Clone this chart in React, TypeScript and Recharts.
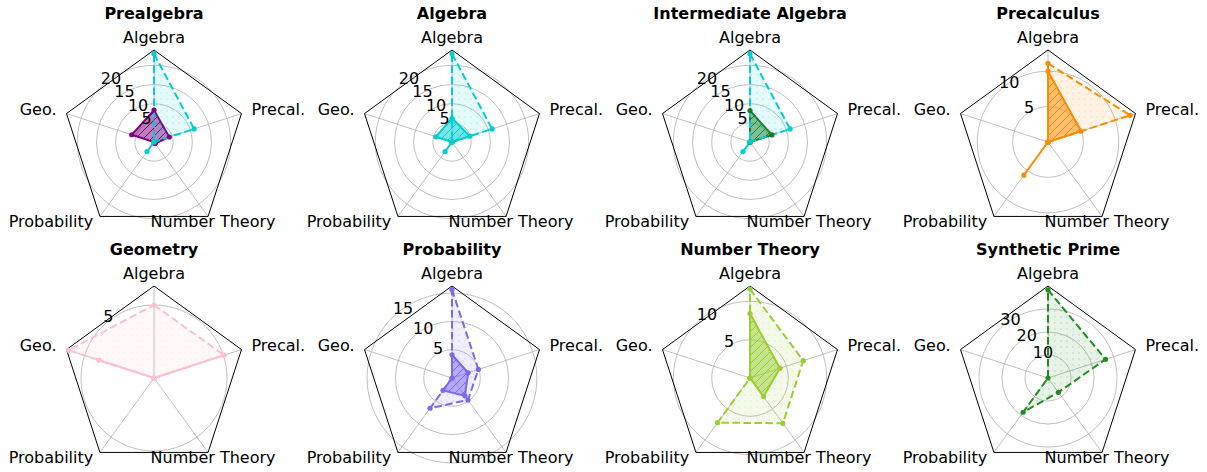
import React from 'react';
import { RadarChart, Radar, PolarGrid, PolarAngleAxis, PolarRadiusAxis } from 'recharts';

const categories = ['Algebra', 'Precal.', 'Number Theory', 'Probability', 'Geo.'];

// solid series, same order as categories
const prealgebraScores = [8.3, 4.2, 0.5, 0, 6.1];
const algebraScores = [6.2, 4.9, 0, 0, 4.4];
const intermediateScores = [8.2, 6.0, 0, 0, 0];
const precalculusScores = [10.0, 4.9, 0, 5.8, 0];
const geometryScores = [0, 5.05, 0, 0, 3.95];
const probabilityScores = [4.1, 3.0, 3.9, 2.7, 0];
const numberTheoryScores = [8.4, 4.1, 3.0, 0, 0];

// dashed series
const algebraFamilyRef = [23.0, 11.0, 0, 3.1, 0];
const precalculusRef = [11.1, 12.2, 0, 0, 0];
const geometryRef = [5.0, 5.05, 0, 0, 6.15];
const probabilityRef = [15.6, 4.9, 4.8, 6.6, 0];
const numberTheoryRef = [11.6, 7.3, 7.3, 7.2, 0];
const syntheticPrimeRef = [38.3, 26.3, 7.7, 18.4, 0];

const radialMax = [24, 24, 24, 12.6, 6.3, 16.25, 12, 39.9];
const ticks20 = [5, 10, 15, 20];
const ticks10 = [5, 10];
const ticks5 = [5];
const ticks15 = [5, 10, 15];
const ticks30 = [10, 20, 30];

const panels = [
  { title: 'Prealgebra', color: '#800080', solid: prealgebraScores, dashed: algebraFamilyRef, dashColor: '#00CED1', ticks: ticks20 },
  { title: 'Algebra', color: '#00CED1', solid: algebraScores, dashed: algebraFamilyRef, dashColor: '#00CED1', ticks: ticks20 },
  { title: 'Intermediate Algebra', color: '#1f7a1f', solid: intermediateScores, dashed: algebraFamilyRef, dashColor: '#00CED1', ticks: ticks20 },
  { title: 'Precalculus', color: '#FF8C00', solid: precalculusScores, dashed: precalculusRef, dashColor: '#FF8C00', ticks: ticks10 },
  { title: 'Geometry', color: '#FFC0CB', solid: geometryScores, dashed: geometryRef, dashColor: '#FFC0CB', ticks: ticks5 },
  { title: 'Probability', color: '#7B68EE', solid: probabilityScores, dashed: probabilityRef, dashColor: '#7B68EE', ticks: ticks15 },
  { title: 'Number Theory', color: '#9ACD32', solid: numberTheoryScores, dashed: numberTheoryRef, dashColor: '#9ACD32', ticks: ticks10 },
  { title: 'Synthetic Prime', color: '#228B22', solid: null, dashed: syntheticPrimeRef, dashColor: '#228B22', ticks: ticks30 },
];

const W = 400;
const H = 236;
const CX = 200;
const CY = 142;
const R = 92;
const COL_X = [154, 452, 750, 1048];
const FONT = 'DejaVu Sans, sans-serif';

const labelPos: Record<string, { anchor: 'start' | 'middle' | 'end'; dx: number; dy: number }> = {
  Algebra: { anchor: 'middle', dx: 0, dy: -7 },
  'Precal.': { anchor: 'start', dx: 10, dy: 1.5 },
  'Number Theory': { anchor: 'middle', dx: 5, dy: 10.6 },
  Probability: { anchor: 'end', dx: -6.7, dy: 10.6 },
  'Geo.': { anchor: 'end', dx: -10, dy: 1.5 },
};

const AngleTick = (props: any) => {
  const { payload } = props;
  const a = (payload.coordinate * Math.PI) / 180;
  const vx = CX + R * Math.cos(a);
  const vy = CY - R * Math.sin(a);
  const p = labelPos[payload.value] || { anchor: 'middle', dx: 0, dy: 0 };
  return (
    <text x={vx + p.dx} y={vy + p.dy} textAnchor={p.anchor} fontSize={16} fontFamily={FONT} fill="#000">
      {payload.value}
    </text>
  );
};

const RadiusTick = (props: any) => {
  const { x, y, payload } = props;
  return (
    <text x={x + 1} y={y - 4} textAnchor="start" fontSize={16} fontFamily={FONT} fill="#000">
      {payload.value}
    </text>
  );
};

const makeDot = (color: string) => (p: any) => (
  <circle key={`dot-${p.index}`} cx={p.cx} cy={p.cy} r={2.6} fill={color} stroke="none" />
);

function Panel({ idx }: { idx: number }) {
  const cfg = panels[idx];
  const col = idx % 4;
  const row = Math.floor(idx / 4);
  const data = categories.map((c, i) => ({
    subject: c,
    solid: cfg.solid ? cfg.solid[i] : undefined,
    dashed: cfg.dashed[i],
  }));
  return (
    <div style={{ position: 'absolute', left: COL_X[col] - CX, top: row * H, width: W, height: H }}>
      <RadarChart width={W} height={H} cx={CX} cy={CY} outerRadius={R} data={data} startAngle={90} endAngle={-270}>
        <PolarGrid gridType="circle" stroke="#b0b0b0" strokeWidth={0.8} />
        <PolarGrid gridType="polygon" polarRadius={[R]} radialLines={false} stroke="#000" strokeWidth={1} />
        <PolarAngleAxis dataKey="subject" tick={AngleTick} axisLine={false} tickLine={false} />
        <PolarRadiusAxis
          angle={135}
          type="number"
          scale="linear"
          domain={[0, radialMax[idx]]}
          ticks={cfg.ticks as any}
          tick={RadiusTick}
          axisLine={false}
          allowDataOverflow
        />
        {cfg.solid && (
          <Radar
            dataKey="solid"
            stroke={cfg.color}
            strokeWidth={2}
            fill={`url(#hatch-${idx})`}
            fillOpacity={1}
            dot={makeDot(cfg.color)}
            isAnimationActive={false}
          />
        )}
        <Radar
          dataKey="dashed"
          stroke={cfg.dashColor}
          strokeWidth={2}
          strokeDasharray="7.5 3.5"
          fill={`url(#dots-${idx})`}
          fillOpacity={1}
          dot={makeDot(cfg.dashColor)}
          isAnimationActive={false}
        />
      </RadarChart>
    </div>
  );
}

export default function App() {
  return (
    <div
      style={{
        position: 'absolute',
        left: 0,
        top: 0,
        width: 1207,
        height: 472,
        overflow: 'hidden',
        background: '#fff',
        fontFamily: FONT,
      }}
    >
      <svg width={0} height={0} style={{ position: 'absolute' }}>
        <defs>
          {panels.map((p, i) => (
            <pattern key={`h${i}`} id={`hatch-${i}`} patternUnits="userSpaceOnUse" width={8} height={8}>
              <rect width={8} height={8} fill={p.color} fillOpacity={0.5} />
              <path d="M-2,2 L2,-2 M0,8 L8,0 M6,10 L10,6" stroke={p.color} strokeWidth={1} />
            </pattern>
          ))}
          {panels.map((p, i) => (
            <pattern key={`d${i}`} id={`dots-${i}`} patternUnits="userSpaceOnUse" width={6} height={6}>
              <rect width={6} height={6} fill={p.dashColor} fillOpacity={0.1} />
              <circle cx={3} cy={3} r={0.7} fill={p.dashColor} fillOpacity={0.3} />
            </pattern>
          ))}
        </defs>
      </svg>
      {panels.map((_, i) => (
        <Panel key={i} idx={i} />
      ))}
      <svg width={1207} height={472} style={{ position: 'absolute', left: 0, top: 0, pointerEvents: 'none' }}>
        {panels.map((p, i) => (
          <text
            key={i}
            x={COL_X[i % 4]}
            y={19 + Math.floor(i / 4) * H}
            textAnchor="middle"
            fontSize={16}
            fontWeight="bold"
            fontFamily={FONT}
            fill="#000"
          >
            {p.title}
          </text>
        ))}
      </svg>
    </div>
  );
}
